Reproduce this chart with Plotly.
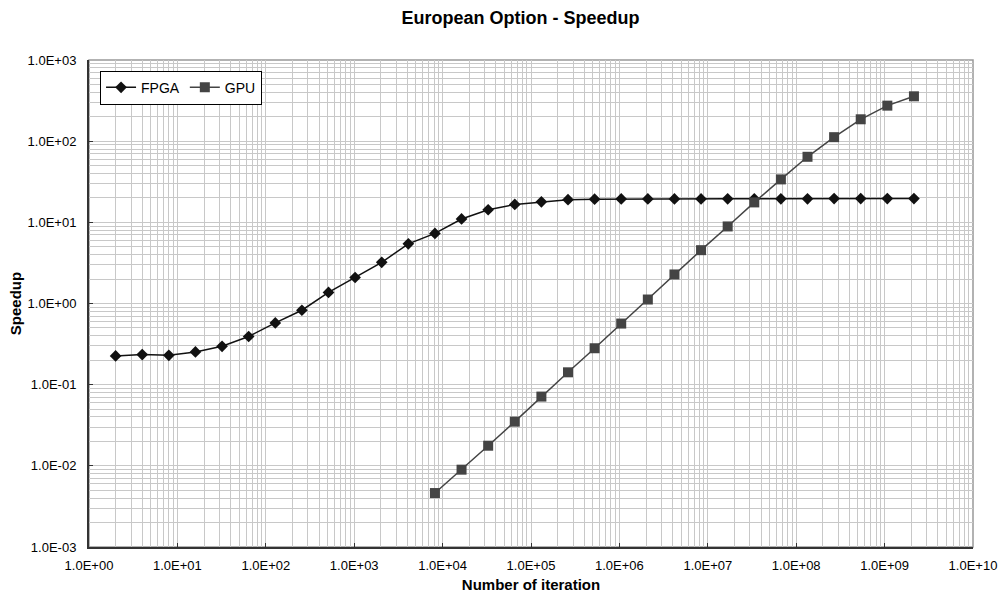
import plotly.graph_objects as go

# Data (number of iterations = powers of two)
fpga_iter = [2**k for k in range(1, 32)]
fpga_speedup = [0.226, 0.235, 0.23, 0.253, 0.297, 0.392, 0.577, 0.826, 1.37, 2.09,
                3.22, 5.43, 7.3, 11.0, 14.3, 16.6, 17.9, 19.0, 19.3, 19.4,
                19.4, 19.4, 19.4, 19.5, 19.5, 19.5, 19.5, 19.6, 19.6, 19.6, 19.6]
gpu_iter = [2**k for k in range(13, 32)]
gpu_speedup = [0.00462, 0.00897, 0.0177, 0.035, 0.0713, 0.142, 0.281, 0.566, 1.12,
               2.28, 4.54, 8.9, 17.6, 33.8, 64.2, 112, 186, 274, 357]

x_tickvals = [10**i for i in range(0, 11)]
x_ticktext = ["1.0E+%02d" % i for i in range(0, 11)]
y_tickvals = [10**i for i in range(-3, 4)]
y_ticktext = [("1.0E+%02d" % i) if i >= 0 else ("1.0E-%02d" % -i) for i in range(-3, 4)]

FONT = "Arial, Liberation Sans, sans-serif"
GRID = "#c8c8c8"

fig = go.Figure()
fig.add_trace(go.Scatter(
    x=fpga_iter, y=fpga_speedup, name="FPGA", mode="lines+markers",
    line=dict(color="#111111", width=1.5),
    marker=dict(symbol="diamond", size=9, color="#111111"),
))
fig.add_trace(go.Scatter(
    x=gpu_iter, y=gpu_speedup, name="GPU", mode="lines+markers",
    line=dict(color="#444444", width=1.5),
    marker=dict(symbol="square", size=10, color="#444444"),
))

fig.update_layout(
    width=1001, height=600,
    margin=dict(l=89, r=28, t=60, b=53),
    paper_bgcolor="white", plot_bgcolor="white",
    font=dict(family=FONT, size=13, color="#000000"),
    title=dict(text="<b>European Option - Speedup</b>", x=0.52, xanchor="center",
               y=1 - 18 / 600, yanchor="middle", font=dict(size=18, color="#000000")),
    showlegend=True,
    legend=dict(orientation="h", x=0.0125, y=0.978, xanchor="left", yanchor="top",
                bgcolor="white", bordercolor="#000000", borderwidth=1,
                font=dict(size=14), itemwidth=30, tracegroupgap=0),
)

fig.update_xaxes(
    type="log", range=[0, 10], automargin=False,
    tickvals=x_tickvals, ticktext=x_ticktext,
    ticks="inside", ticklen=4, tickcolor="#333333",
    showline=True, linecolor="#333333", linewidth=2,
    showgrid=True, gridcolor=GRID, gridwidth=1,
    minor=dict(dtick="D1", showgrid=True, gridcolor=GRID, gridwidth=1, ticks=""),
    tickfont=dict(size=13), ticklabelstandoff=5,
    title=dict(text="<b>Number of iteration</b>", font=dict(size=15), standoff=8),
    zeroline=False,
)
fig.update_yaxes(
    type="log", range=[-3, 3], automargin=False,
    tickvals=y_tickvals, ticktext=y_ticktext,
    ticks="inside", ticklen=4, tickcolor="#333333",
    showline=True, linecolor="#333333", linewidth=2,
    showgrid=True, gridcolor=GRID, gridwidth=1,
    minor=dict(dtick="D1", showgrid=True, gridcolor=GRID, gridwidth=1, ticks=""),
    tickfont=dict(size=13), ticklabelstandoff=8,
    title=dict(text="<b>Speedup</b>", font=dict(size=15), standoff=2),
    zeroline=False,
)

# plot-area border (top and right, grey as in the original)
fig.add_shape(type="rect", xref="paper", yref="paper", x0=0, x1=1, y0=0, y1=1,
              line=dict(color="#999999", width=1.5), layer="below")

fig.write_html("out.html")
